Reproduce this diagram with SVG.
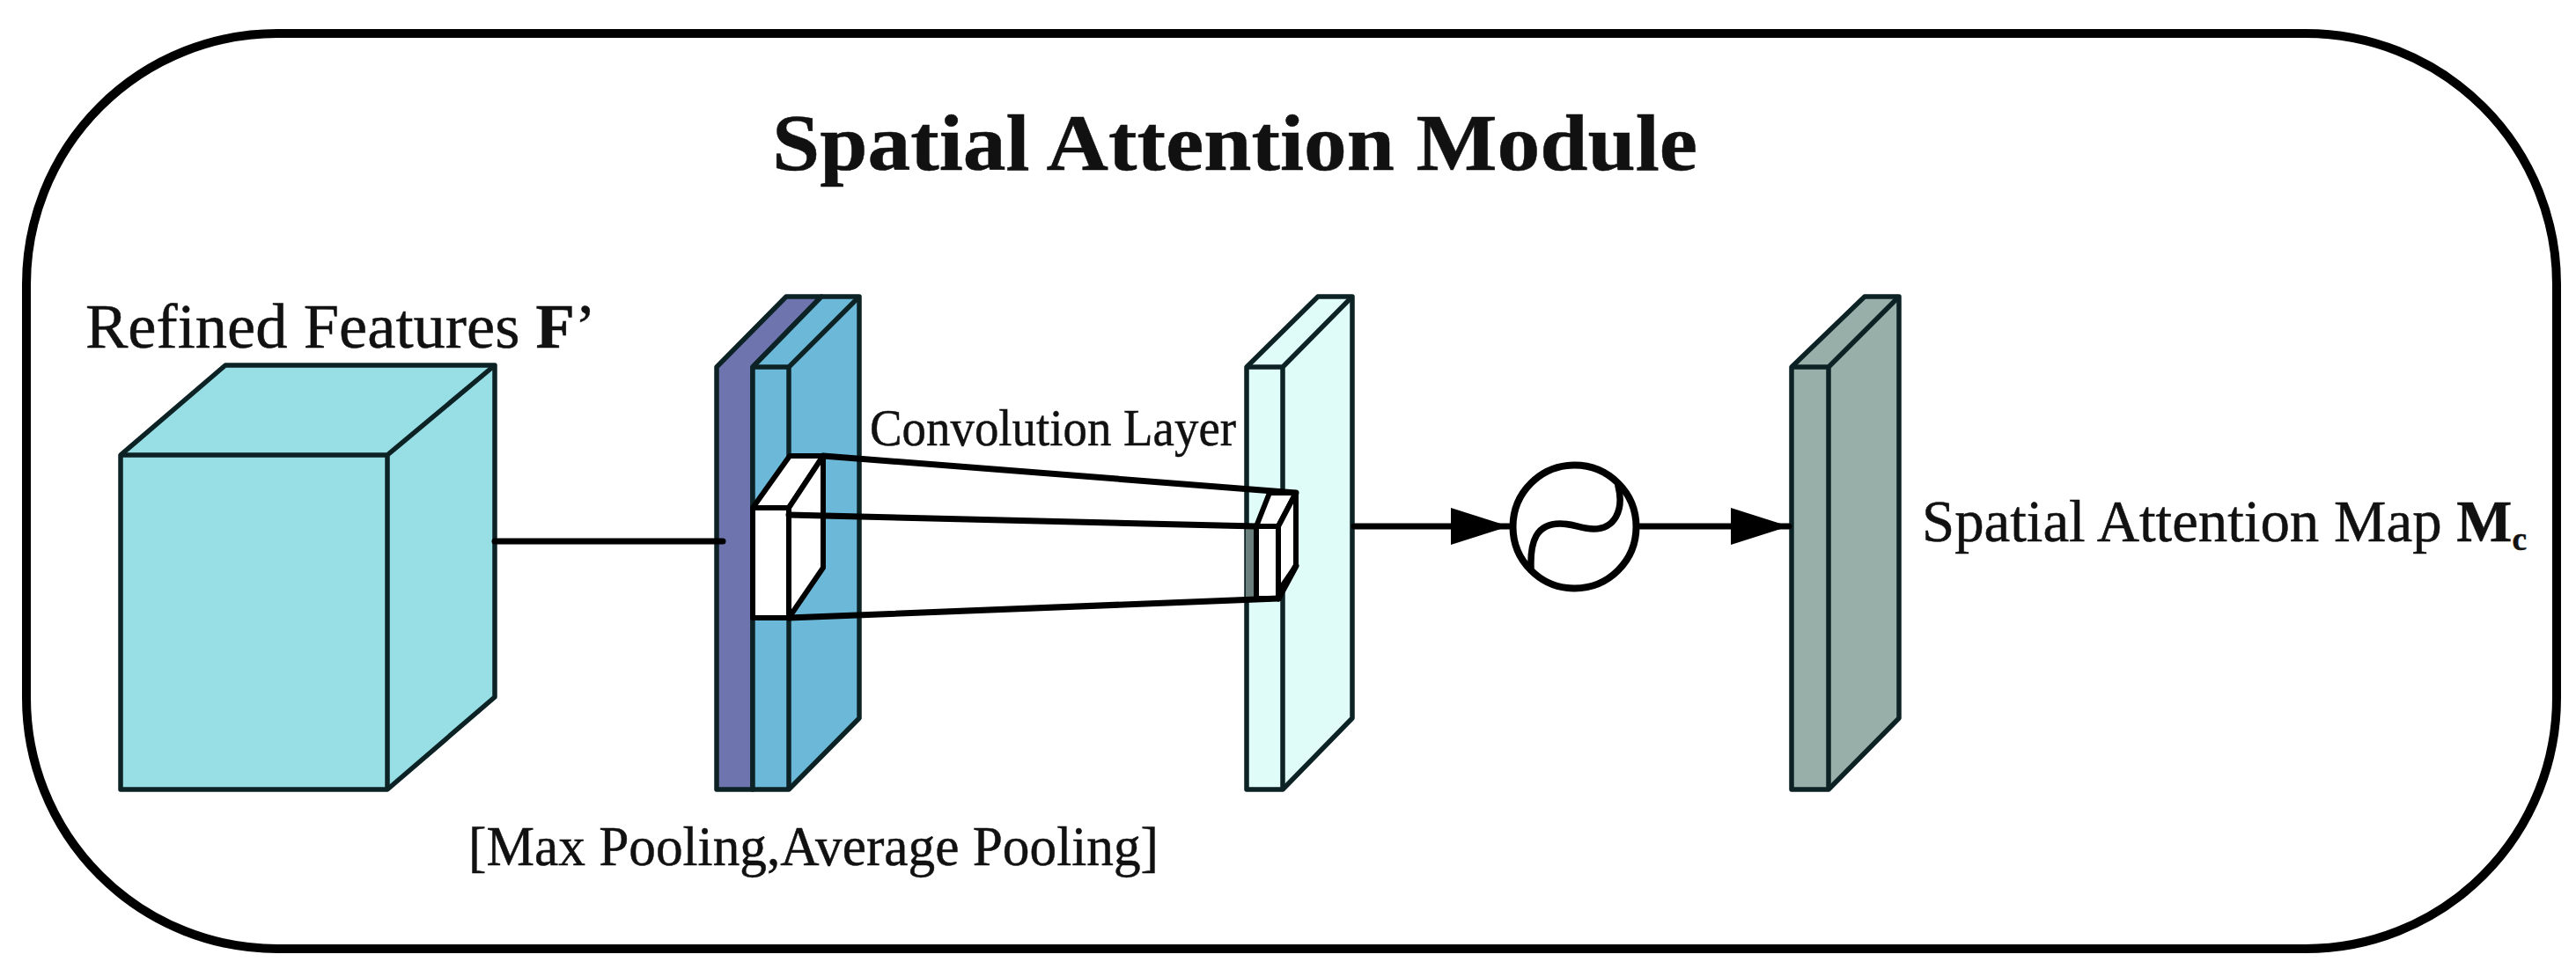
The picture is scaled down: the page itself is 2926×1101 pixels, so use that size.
<svg xmlns="http://www.w3.org/2000/svg" width="2926" height="1101" viewBox="0 0 2926 1101">
<style>
.e{stroke:#0c2224;stroke-width:5.5;stroke-linejoin:round}
.l{fill:none;stroke:#000;stroke-linejoin:round;stroke-linecap:round}
.w{fill:#fff;stroke:#000;stroke-width:6;stroke-linejoin:round}
text{font-family:"Liberation Serif","Times New Roman",serif;fill:#111;stroke:#111;stroke-width:.5}
</style>
<defs><marker id="arrow" markerUnits="userSpaceOnUse" markerWidth="66" markerHeight="42" refX="66" refY="21" orient="auto"><path d="M0 0L66 21L0 42Z" fill="#000"/></marker></defs>
<rect width="2926" height="1101" fill="#fff"/>
<rect id="frame" x="30" y="38" width="2874" height="1040" rx="285" ry="285" fill="none" stroke="#000" stroke-width="10"/>
<text id="title" x="877" y="193" font-size="92" font-weight="bold" textLength="1051" lengthAdjust="spacingAndGlyphs">Spatial Attention Module</text>
<g id="features">
<path class="e" fill="#97dfe5" d="M137 517L256 415H562V792L440 897H137Z"/>
<path class="e" fill="none" d="M137 517H440V897M440 517L562 415"/>
<text x="97" y="395" font-size="72" textLength="580" lengthAdjust="spacingAndGlyphs">Refined Features <tspan font-weight="bold">F</tspan>’</text>
</g>
<g id="pooling">
<path class="e" fill="#6d74ae" d="M814 417L893 337H933L855 417V897H814Z"/>
<path class="e" fill="#6cb8d8" d="M855 417L933 337H976V816L896 897H855Z"/>
<path class="e" fill="none" d="M855 417H896V897M896 417L976 337"/>
<text x="532" y="983" font-size="64" textLength="784" lengthAdjust="spacingAndGlyphs">[Max Pooling,Average Pooling]</text>
</g>
<g id="conv-layer">
<path class="e" fill="#dffcf9" d="M1416 417L1497 337H1536V816L1457 897H1416Z"/>
<path class="e" fill="none" d="M1416 417H1457V897M1457 417L1536 337"/>
<rect x="1415" y="598" width="12" height="82" fill="#6b7f7c"/>
<text x="988" y="506" font-size="60" textLength="416" lengthAdjust="spacingAndGlyphs">Convolution Layer</text>
</g>
<g id="kernel-source">
<path class="w" d="M855 577L897 518H935L896 577Z"/>
<path class="w" d="M896 577L935 518V645L896 702Z"/>
<rect class="w" x="855" y="577" width="41" height="125"/>
</g>
<g id="kernel-target">
<path class="w" d="M1427 598L1442 560H1472L1452 598Z"/>
<path class="w" d="M1452 598L1472 560V643L1452 672Z"/>
<rect class="w" x="1427" y="598" width="25" height="82"/>
</g>
<g id="map">
<path class="e" fill="#98afa9" d="M2035 417L2118 337H2157V816L2077 897H2035Z"/>
<path class="e" fill="none" d="M2035 417H2077V897M2077 417L2157 337"/>
<text x="2183" y="615" font-size="68" textLength="687" lengthAdjust="spacingAndGlyphs">Spatial Attention Map <tspan font-weight="bold">M</tspan><tspan font-weight="bold" font-size="38" dy="10">c</tspan></text>
</g>
<g id="sigmoid">
<circle cx="1788.5" cy="598.5" r="70" fill="#fff" stroke="#000" stroke-width="8"/>
<path class="l" stroke-width="7.5" d="M1739 645C1738 615 1745 595 1772 595C1788 595 1796 601 1810 601C1834 601 1845 580 1838 552"/>
</g>
<g id="connectors">
<path class="l" stroke-width="7" d="M562 615H821"/>
<path class="l" stroke-width="7" d="M935 518L1472 560"/>
<path class="l" stroke-width="7" d="M896 585L1427 598"/>
<path class="l" stroke-width="7" d="M896 702L1452 680"/>
<path class="l" stroke-width="7" d="M1472 643L1452 680"/>
<path class="l" stroke-width="7" marker-end="url(#arrow)" d="M1538 598H1714"/>
<path class="l" stroke-width="7" marker-end="url(#arrow)" d="M1862 598H2032"/>
</g>
</svg>
